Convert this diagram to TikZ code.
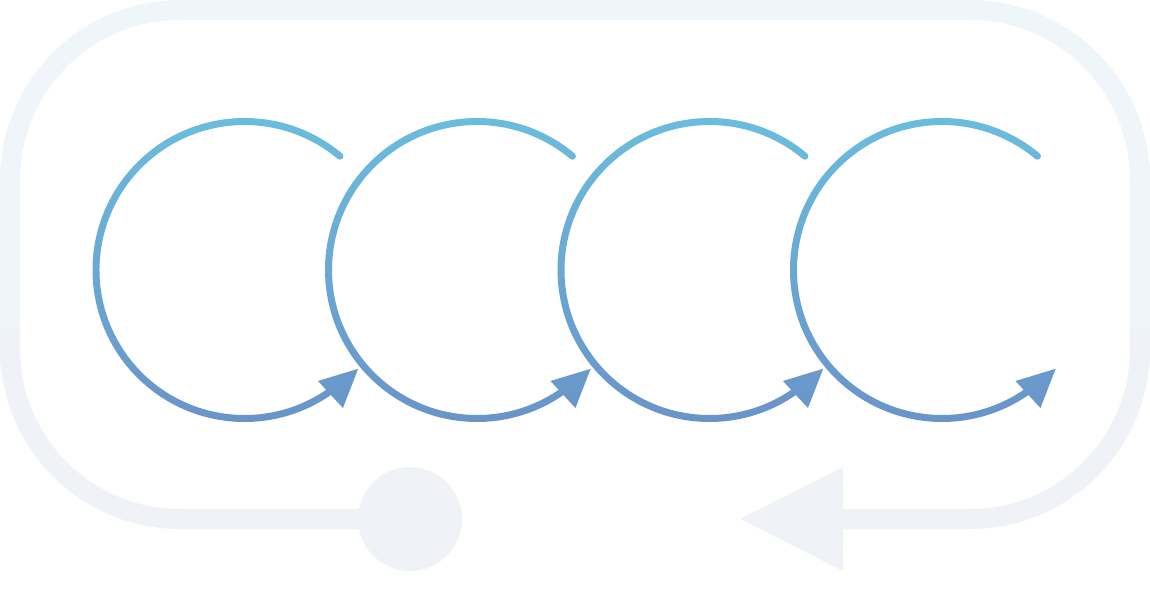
\documentclass[tikz,border=0pt]{standalone}
\definecolor{loopTop}{HTML}{EFF6FA}
\definecolor{loopBot}{HTML}{EFF2F7}
\definecolor{arcTop}{HTML}{6BBFDE}
\definecolor{arcBot}{HTML}{6A92C7}
\tikzset{
  loopshade/.style={top color=loopTop,bottom color=loopBot},
  arcshade/.style={top color=arcTop,bottom color=arcBot}
}
\begin{document}
\begin{tikzpicture}[x=1pt,y=1pt]
\useasboundingbox (0,0) rectangle (1150,589);
% background loop
\shade[loopshade,even odd rule]
  {[rounded corners=180pt] (0,60) rectangle (1150,589)}
  {[rounded corners=160pt] (20,80) rectangle (1130,569)};
\fill[white] (410,50) rectangle (843,90);
\fill[loopBot] (410,70) circle[radius=52];
\fill[loopBot] (740,70) -- (843,122) -- (843,18) -- cycle;
% circular arrows
\foreach \cx in {244.5,477,709.5,942}{
  \begin{scope}[shift={(\cx,319)}]
  \shade[arcshade]
    (50:152) arc[start angle=50,end angle=305,radius=152]
    -- (305:145) arc[start angle=305,end angle=50,radius=145]
    arc[start angle=230,end angle=410,radius=3.5] -- cycle
    (-41:150.6) -- (-56.5:133.1) -- (-54.5:169.5) -- cycle;
  \end{scope}
}
\end{tikzpicture}
\end{document}
